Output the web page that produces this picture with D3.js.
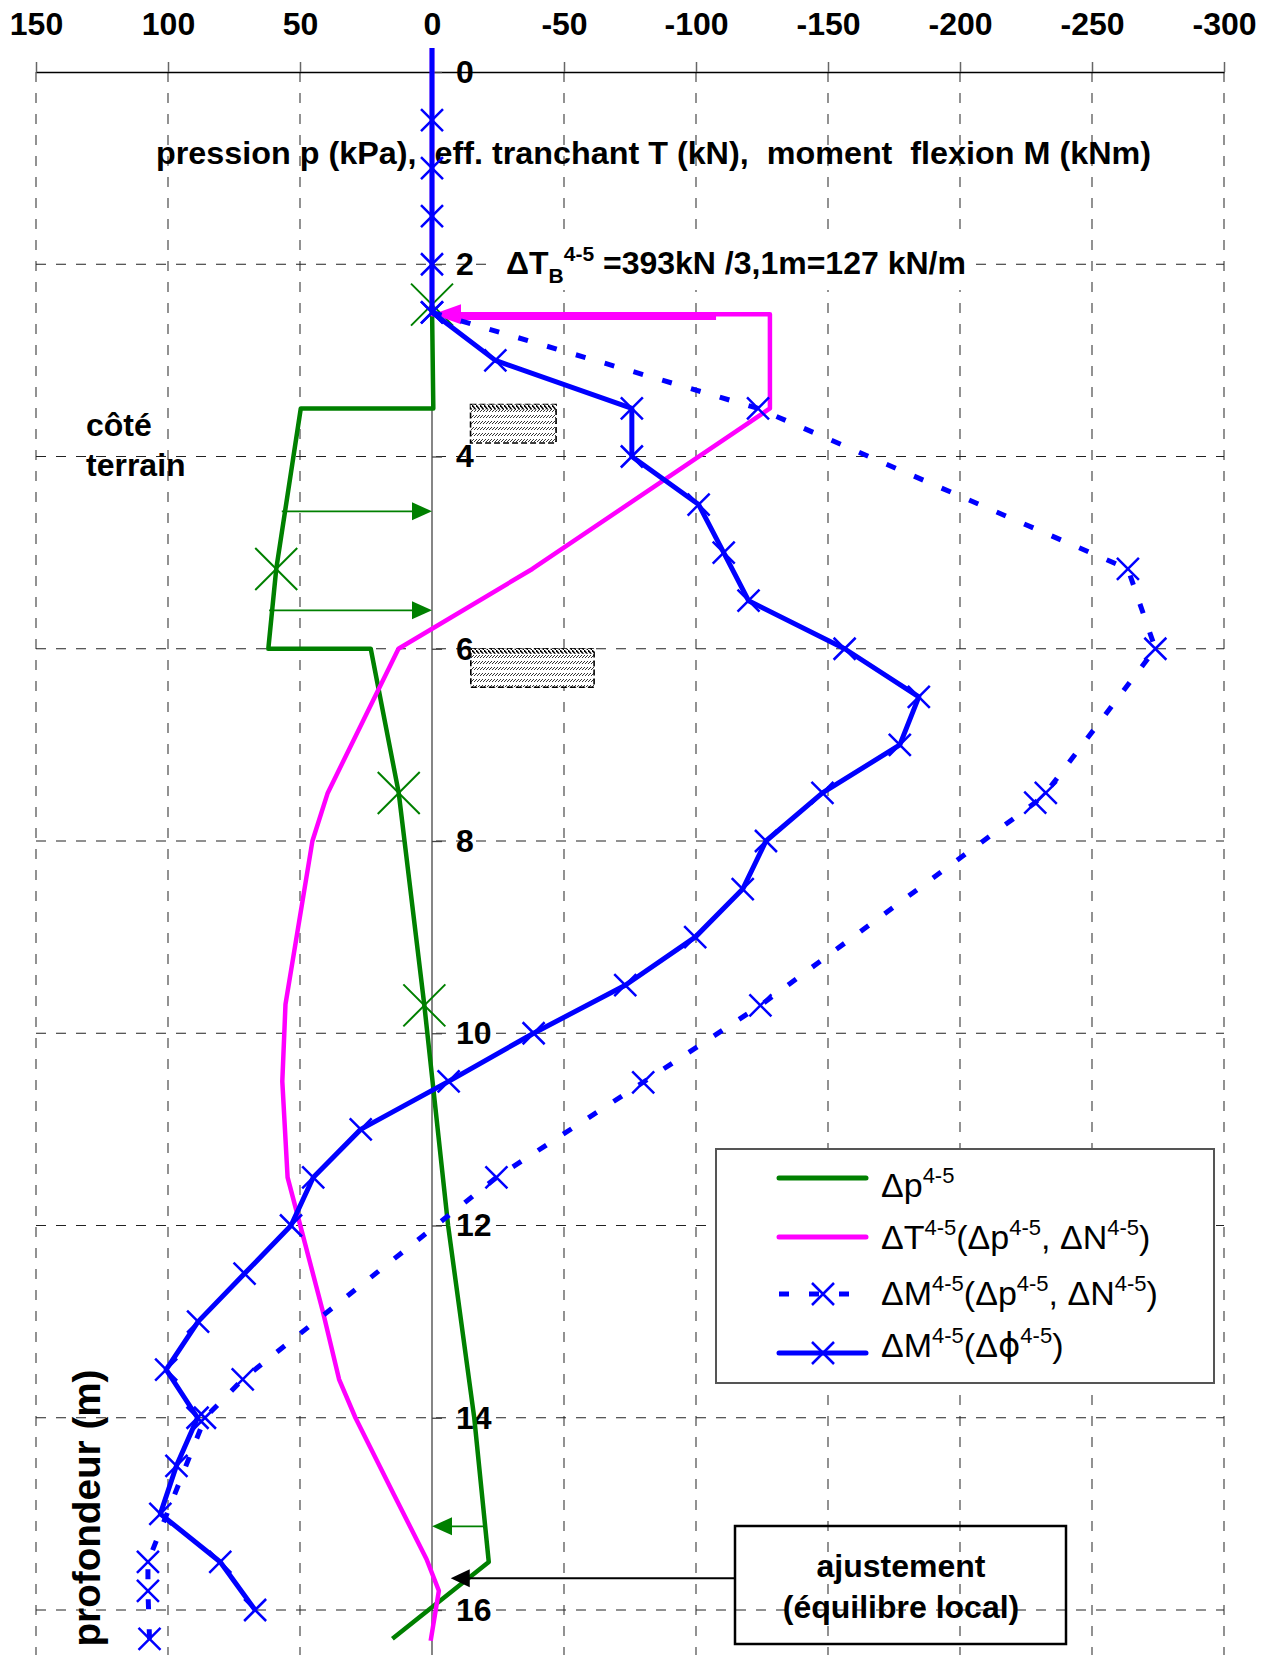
<!DOCTYPE html>
<html>
<head>
<meta charset="utf-8">
<script src="https://cdn.jsdelivr.net/npm/d3@7"></script>
<style>
  body { margin: 0; background: #fff; }
  svg { display: block; font-family: "Liberation Sans", Arial, sans-serif; }
  text { white-space: pre; }
</style>
</head>
<body>
<svg id="chart"></svg>
<script>
const w = 1269;
const h = 1655;

// axis ticks
const xTicks = [150, 100, 50, 0, -50, -100, -150, -200, -250, -300];
const yTicks = [0, 2, 4, 6, 8, 10, 12, 14, 16];

// Δp 4-5 (green)
const dpDepth = [2.42, 3.5, 3.5, 5.17, 6.0, 6.0, 7.5, 9.71, 12.0, 14.0, 15.5, 16.3];
const dpValue = [0, -0.5, 49.7, 59, 62, 23.2, 12.6, 2.9, -6.1, -16, -21.5, 15];
const dpMarkDepth = [2.42, 5.17, 7.5, 9.71];
const dpMarkValue = [0, 59, 12.6, 2.9];

// ΔT 4-5 (magenta)
const dtDepth = [-0.25, 2.52, 2.52, 3.5, 5.17, 6.0, 7.5, 8.0, 9.7, 10.5, 11.5, 12.05, 12.9, 13.6, 14.0, 14.8, 15.47, 15.8, 16.32];
const dtValue = [0, 0, -128, -128, -38, 12.7, 39.5, 45.3, 55.5, 56.7, 54.7, 49.4, 41.3, 35.2, 29, 14.4, 2.1, -2.6, 0.5];

// ΔM 4-5 (Δp, ΔN) dashed blue
const dmpDepth = [2.5, 3.5, 5.17, 6.0, 7.5, 7.6, 9.71, 10.51, 11.5, 13.6, 14.0, 15.5, 15.8, 16.3];
const dmpValue = [0, -123.5, -263.6, -274, -232.5, -228.5, -124.4, -80, -24.4, 71.7, 86, 107.6, 107.6, 107];

// ΔM 4-5 (Δφ) solid blue
const dmfDepth = [-0.25, 0.5, 1, 1.5, 2, 2.5, 3, 3.5, 4, 4.5, 5, 5.5, 6, 6.5, 7, 7.5, 8, 8.5, 9, 9.5, 10, 10.5, 11, 11.5, 12, 12.5, 13, 13.5, 14, 14.5, 15, 15.5, 16];
const dmfValue = [0, 0, 0, 0, 0, 0, -24, -75.7, -75.7, -101, -110.5, -119.9, -156.3, -184.4, -177.2, -147.9, -126.5, -117.7, -99.7, -73.2, -38.5, -6.3, 27, 45, 53.4, 71, 88.6, 100.7, 88.8, 96.8, 102.9, 80.2, 67];

// annotation arrows [value, depth]
const greenArrows = [[[56.9, 4.57], [0, 4.57]], [[61.7, 5.6], [0, 5.6]], [[-19.5, 15.13], [0, 15.13]]];
const pinkArrow = [[-107.6, 2.55], [0, 2.52]];
const blackArrow = [[-114.8, 15.67], [-7.1, 15.67]];
// hatched zones [v1, v2, d1, d2]
const zones = [[-14.6, -47.0, 3.46, 3.86], [-14.7, -61.4, 6.0, 6.4]];

const svg = d3.select('#chart').attr('width', w).attr('height', h);

const x = d3.scaleLinear().domain([150, -300]).range([36, 1224]);
const y = d3.scaleLinear().domain([0, 16]).range([72, 1610]);

const defs = svg.append('defs');
const rows = defs.append('pattern').attr('id', 'rows')
  .attr('patternUnits', 'userSpaceOnUse').attr('width', 3).attr('height', 6);
rows.append('rect').attr('width', 3).attr('height', 6).attr('fill', '#fff');
rows.append('path').attr('d', 'M0,4L3,1').attr('stroke', '#000').attr('stroke-width', 0.8);
const band = defs.append('pattern').attr('id', 'band')
  .attr('patternUnits', 'userSpaceOnUse').attr('width', 4).attr('height', 5);
band.append('rect').attr('width', 4).attr('height', 5).attr('fill', '#fff');
band.append('path').attr('d', 'M0,0L4,5').attr('stroke', '#000').attr('stroke-width', 1.5);

// grid
svg.append('g').selectAll('line').data(xTicks.filter(d => d !== 0)).enter()
  .append('line')
  .attr('x1', d => x(d)).attr('x2', d => x(d))
  .attr('y1', y(0)).attr('y2', h)
  .attr('stroke', '#777').attr('stroke-width', 1.6).attr('stroke-dasharray', '10,11');
svg.append('g').selectAll('line').data(yTicks.filter(d => d !== 0)).enter()
  .append('line')
  .attr('x1', x(150)).attr('x2', x(-300))
  .attr('y1', d => y(d)).attr('y2', d => y(d))
  .attr('stroke', '#222').attr('stroke-width', 1.2).attr('stroke-dasharray', '10,10');

// vertical axis line down to the bottom
svg.append('line')
  .attr('x1', x(0)).attr('x2', x(0)).attr('y1', y(0)).attr('y2', h)
  .attr('stroke', '#444').attr('stroke-width', 1.3);

const xAxis = d3.axisTop(x).tickValues(xTicks).tickSize(10).tickSizeOuter(0)
  .tickPadding(27).tickFormat(d => String(d));
const gx = svg.append('g').attr('transform', `translate(0,${y(0)})`).call(xAxis);
gx.select('.domain').attr('stroke', '#000').attr('stroke-width', 1.5);
gx.selectAll('.tick line').attr('stroke', '#666').attr('stroke-width', 1.5);
gx.selectAll('text').style('font-size', '32px').style('font-weight', 'bold')
  .attr('fill', '#000').style('font-family', '"Liberation Sans", Arial, sans-serif');

const yAxis = d3.axisRight(y).tickValues(yTicks).tickSize(10).tickPadding(14);
const gy = svg.append('g').attr('transform', `translate(${x(0)},0)`).call(yAxis);
gy.select('.domain').remove();
gy.selectAll('.tick line').attr('stroke', '#444').attr('stroke-width', 1.3);
gy.selectAll('text').style('font-size', '32px').style('font-weight', 'bold')
  .attr('fill', '#000').style('font-family', '"Liberation Sans", Arial, sans-serif');

// texts
function richText(parent, parts, tx, ty, size, small, weight) {
  const t = parent.append('text').attr('x', tx).attr('y', ty)
    .style('font-size', size + 'px').style('font-weight', weight).attr('fill', '#000');
  let shift = 0;
  parts.forEach(([s, kind, fam]) => {
    const target = kind === 'sup' ? -0.42 * size : kind === 'sub' ? 0.28 * size : 0;
    const sp = t.append('tspan').attr('dy', target - shift)
      .style('font-size', (kind ? small : size) + 'px').text(s);
    if (fam) sp.style('font-family', fam);
    shift = target;
  });
  return t;
}

svg.append('text').attr('x', 156).attr('y', 164)
  .style('font-size', '32px').style('font-weight', 'bold')
  .attr('textLength', 995).attr('lengthAdjust', 'spacingAndGlyphs')
  .text('pression p (kPa),  eff. tranchant T (kN),  moment  flexion M (kNm)');

// annotation text box (white background hides the grid line)
svg.append('rect').attr('x', 496).attr('y', 238).attr('width', 476).attr('height', 52)
  .attr('fill', '#fff');
richText(svg, [['ΔT', ''], ['B', 'sub'], ['4-5', 'sup'], [' =393kN /3,1m=127 kN/m', '']],
  506, 274, 32, 21, 'bold');

svg.append('text').attr('x', 86).attr('y', 436)
  .style('font-size', '32px').style('font-weight', 'bold').text('côté');
svg.append('text').attr('x', 86).attr('y', 476)
  .style('font-size', '32px').style('font-weight', 'bold').text('terrain');

svg.append('text')
  .attr('transform', 'translate(100,1508) rotate(-90)')
  .attr('text-anchor', 'middle')
  .style('font-size', '38px').style('font-weight', 'bold')
  .attr('textLength', 277).attr('lengthAdjust', 'spacingAndGlyphs')
  .text('profondeur (m)');

// hatched zones
zones.forEach(([v1, v2, d1, d2]) => {
  const gz = svg.append('g');
  gz.append('rect')
    .attr('x', x(v1)).attr('y', y(d1))
    .attr('width', x(v2) - x(v1)).attr('height', y(d2) - y(d1))
    .attr('fill', 'url(#rows)').attr('stroke', '#000')
    .attr('stroke-width', 1.6).attr('stroke-dasharray', '6,3');
  gz.append('rect')
    .attr('x', x(v1)).attr('y', y(d1))
    .attr('width', x(v2) - x(v1)).attr('height', 5)
    .attr('fill', 'url(#band)');
});

// series
const toPts = (ds, vs) => d3.zip(ds, vs).map(([d, v]) => ({ d, v }));
const line = d3.line().x(p => x(p.v)).y(p => y(p.d));
const cross = s => `M${-s},${-s}L${s},${s}M${-s},${s}L${s},${-s}`;

const dp = toPts(dpDepth, dpValue);
const dt = toPts(dtDepth, dtValue);
const dmp = toPts(dmpDepth, dmpValue);
const dmf = toPts(dmfDepth, dmfValue);

svg.append('path').datum(dp).attr('d', line)
  .attr('fill', 'none').attr('stroke', '#008000').attr('stroke-width', 4.5)
  .attr('stroke-linejoin', 'round');
svg.append('g').selectAll('path').data(toPts(dpMarkDepth, dpMarkValue)).enter()
  .append('path')
  .attr('transform', p => `translate(${x(p.v)},${y(p.d)})`)
  .attr('d', cross(21)).attr('stroke', '#008000').attr('stroke-width', 2);

// green arrows
greenArrows.forEach(([a, b]) => {
  const x1 = x(a[0]), y1 = y(a[1]), x2 = x(b[0]), y2 = y(b[1]);
  const dir = Math.sign(x2 - x1);
  svg.append('line').attr('x1', x1).attr('y1', y1).attr('x2', x2 - dir * 18).attr('y2', y2)
    .attr('stroke', '#008000').attr('stroke-width', 1.8);
  svg.append('path')
    .attr('d', `M${x2},${y2}L${x2 - dir * 20},${y2 - 9}L${x2 - dir * 20},${y2 + 9}Z`)
    .attr('fill', '#008000');
});

svg.append('path').datum(dt).attr('d', line)
  .attr('fill', 'none').attr('stroke', '#ff00ff').attr('stroke-width', 4.5)
  .attr('stroke-linejoin', 'round');

// magenta arrow
{
  const [a, b] = pinkArrow;
  const x1 = x(a[0]), y1 = y(a[1]), x2 = x(b[0]) + 1, y2 = y(b[1]);
  svg.append('line').attr('x1', x1).attr('y1', y1).attr('x2', x2 + 24).attr('y2', y1)
    .attr('stroke', '#ff00ff').attr('stroke-width', 6);
  svg.append('path')
    .attr('d', `M${x2},${y2}L${x2 + 28},${y2 - 10}L${x2 + 28},${y2 + 10}Z`)
    .attr('fill', '#ff00ff');
}

svg.append('path').datum(dmp).attr('d', line)
  .attr('fill', 'none').attr('stroke', '#0000ff').attr('stroke-width', 5)
  .attr('stroke-dasharray', '10,20');
svg.append('g').selectAll('path').data(dmp).enter()
  .append('path')
  .attr('transform', p => `translate(${x(p.v)},${y(p.d)})`)
  .attr('d', cross(11)).attr('stroke', '#0000ff').attr('stroke-width', 2.5);

svg.append('path').datum(dmf).attr('d', line)
  .attr('fill', 'none').attr('stroke', '#0000ff').attr('stroke-width', 5)
  .attr('stroke-linejoin', 'round');
svg.append('g').selectAll('path').data(dmf.slice(1)).enter()
  .append('path')
  .attr('transform', p => `translate(${x(p.v)},${y(p.d)})`)
  .attr('d', cross(11)).attr('stroke', '#0000ff').attr('stroke-width', 2.5);

// adjustment box and black arrow
svg.append('rect').attr('x', 735).attr('y', 1526).attr('width', 331).attr('height', 118)
  .attr('fill', 'none').attr('stroke', '#000').attr('stroke-width', 2.5);
svg.append('text').attr('x', 901).attr('y', 1577).attr('text-anchor', 'middle')
  .style('font-size', '32px').style('font-weight', 'bold').text('ajustement');
svg.append('text').attr('x', 901).attr('y', 1618).attr('text-anchor', 'middle')
  .style('font-size', '32px').style('font-weight', 'bold').text('(équilibre local)');
{
  const [a, b] = blackArrow;
  const x1 = x(a[0]), yy = y(a[1]), x2 = x(b[0]);
  svg.append('line').attr('x1', x1).attr('y1', yy).attr('x2', x2 + 16).attr('y2', yy)
    .attr('stroke', '#000').attr('stroke-width', 2);
  svg.append('path')
    .attr('d', `M${x2},${yy}L${x2 + 19},${yy - 9}L${x2 + 19},${yy + 9}Z`)
    .attr('fill', '#000');
}

// legend
const lg = svg.append('g');
lg.append('rect').attr('x', 716).attr('y', 1149).attr('width', 498).attr('height', 234)
  .attr('fill', '#fff').attr('stroke', '#555').attr('stroke-width', 2);
const legendItems = [
  { color: '#008000', dash: null, mark: false, ly: 1178, ty: 1197,
    parts: [['Δp', ''], ['4-5', 'sup']] },
  { color: '#ff00ff', dash: null, mark: false, ly: 1237, ty: 1249,
    parts: [['ΔT', ''], ['4-5', 'sup'], ['(Δp', ''], ['4-5', 'sup'], [', ΔN', ''], ['4-5', 'sup'], [')', '']] },
  { color: '#0000ff', dash: '10,20', mark: true, ly: 1294, ty: 1305,
    parts: [['ΔM', ''], ['4-5', 'sup'], ['(Δp', ''], ['4-5', 'sup'], [', ΔN', ''], ['4-5', 'sup'], [')', '']] },
  { color: '#0000ff', dash: null, mark: true, ly: 1353, ty: 1357,
    parts: [['ΔM', ''], ['4-5', 'sup'], ['(Δ', ''], ['\u03D5', '', '"DejaVu Sans", "Liberation Sans", sans-serif'], ['4-5', 'sup'], [')', '']] }
];
legendItems.forEach(it => {
  lg.append('line').attr('x1', 779).attr('x2', 866).attr('y1', it.ly).attr('y2', it.ly)
    .attr('stroke', it.color).attr('stroke-width', 5)
    .attr('stroke-linecap', it.dash ? 'butt' : 'round')
    .attr('stroke-dasharray', it.dash);
  if (it.mark) {
    lg.append('path').attr('transform', `translate(823,${it.ly})`)
      .attr('d', cross(11)).attr('stroke', it.color).attr('stroke-width', 2.5);
  }
  richText(lg, it.parts, 881, it.ty, 34, 22, 'normal');
});
</script>
</body>
</html>
